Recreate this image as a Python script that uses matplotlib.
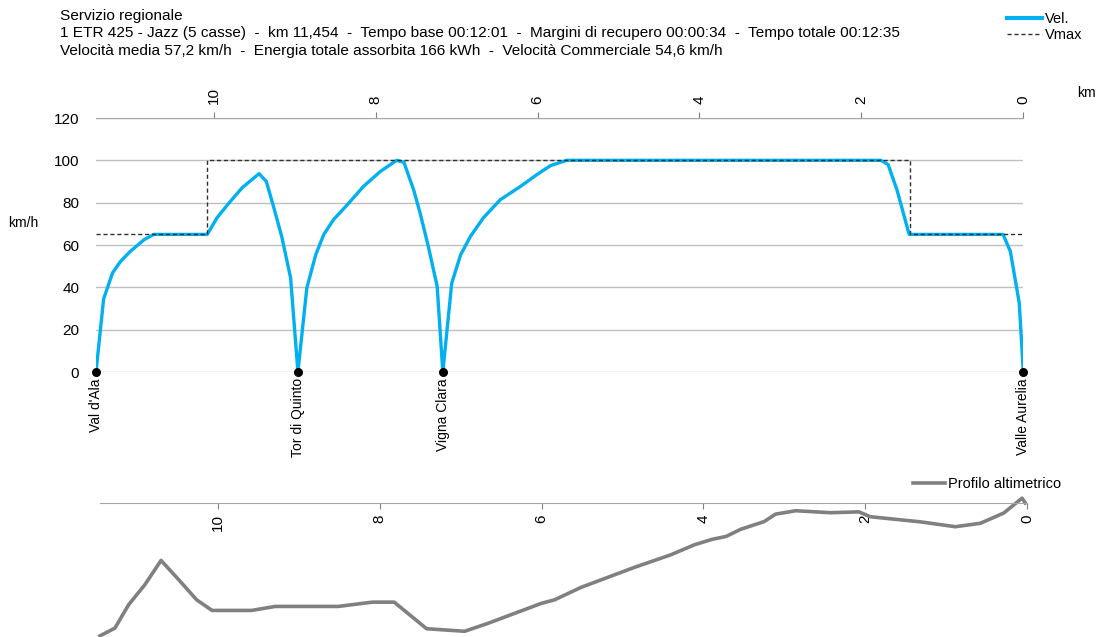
import matplotlib
matplotlib.use("Agg")
import matplotlib.pyplot as plt

# ---------------------------------------------------------------------------
# Data (km from Valle Aurelia, decreasing left to right)
# ---------------------------------------------------------------------------
TOTAL_KM = 11.454

SPEED_KM = [11.454, 11.36, 11.25, 11.15, 11.03, 10.86, 10.74, 10.08, 9.96, 9.83,
            9.65, 9.44, 9.35, 9.26, 9.16, 9.05, 8.96, 8.85, 8.74, 8.64,
            8.52, 8.35, 8.15, 7.94, 7.74, 7.65, 7.53, 7.45, 7.35, 7.24,
            7.17, 7.06, 6.95, 6.83, 6.67, 6.46, 6.21, 6.01, 5.84, 5.64,
            1.76, 1.67, 1.56, 1.41, 0.25, 0.16, 0.05, 0.0]
SPEED = [0, 34.5, 46.8, 52.3, 57, 62.5, 65, 65, 72.8, 79,
         87, 93.7, 90, 78, 64, 44.4, 0, 39.7, 55.4, 65,
         72, 79, 87.7, 94.8, 100, 99, 86, 75, 59.4, 40.5,
         0, 42, 55.4, 64, 72.8, 81.4, 87.7, 93.2, 97.5, 100,
         100, 98, 86, 65, 65, 57, 32.6, 0]

VMAX_KM = [11.454, 10.08, 10.08, 1.40, 1.40, 0.0]
VMAX = [65, 65, 100, 100, 65, 65]

STATIONS = ["Val d'Ala", "Tor di Quinto", "Vigna Clara", "Valle Aurelia"]
STATION_KM = [11.454, 8.96, 7.17, 0.0]

ALT_KM = [11.454, 11.27, 11.10, 10.90, 10.70, 10.48, 10.26, 10.07, 9.58, 9.29,
          8.51, 8.09, 7.82, 7.42, 6.95, 6.66, 6.33, 6.00, 5.84, 5.51,
          4.85, 4.40, 4.11, 3.89, 3.72, 3.54, 3.25, 3.11, 2.86, 2.43,
          2.08, 1.94, 1.32, 0.89, 0.58, 0.29, 0.065, 0.025]
ALT = [20.0, 22.7, 30.9, 37.9, 46.4, 39.6, 32.6, 28.9, 28.9, 30.3,
       30.3, 31.8, 31.8, 22.5, 21.6, 24.4, 27.9, 31.4, 32.6, 37.0,
       44.0, 48.4, 51.9, 53.8, 54.8, 57.3, 60.0, 62.6, 63.8, 63.1,
       63.4, 61.7, 59.9, 58.2, 59.4, 63.0, 68.2, 66.5]

KM_TICKS = [10, 8, 6, 4, 2, 0]
SPEED_TICKS = [0, 20, 40, 60, 80, 100, 120]

HEADER_LINES = [
    "Servizio regionale",
    "1 ETR 425 - Jazz (5 casse)  -  km 11,454  -  Tempo base 00:12:01  -  "
    "Margini di recupero 00:00:34  -  Tempo totale 00:12:35",
    "Velocità media 57,2 km/h  -  Energia totale assorbita 166 kWh  -  "
    "Velocità Commerciale 54,6 km/h",
]

BLUE = "#00b0f0"
GREY_LINE = "#808080"
GRID = "#c0c0c0"
ARIAL = ["Liberation Sans", "DejaVu Sans"]

W, H = 1102, 637


def px(x, y):
    """pixel position -> figure fraction"""
    return x / W, 1 - y / H


plt.rcParams["font.family"] = ARIAL

fig = plt.figure(figsize=(W / 100, H / 100), dpi=100, facecolor="white")

# ── speed panel ──────────────────────────────────────────────────────────
ax = fig.add_axes([96 / W, 1 - 372 / H, 927.3 / W, 254 / H])
ax.set_xlim(TOTAL_KM, 0)
ax.set_ylim(0, 120)
ax.plot(VMAX_KM, VMAX, color="#303030", lw=1.0, ls=(0, (3, 2)), label="Vmax", zorder=3)
ax.plot(SPEED_KM, SPEED, color=BLUE, lw=2.4, label="Vel.", zorder=2)
ax.scatter(STATION_KM, [0] * len(STATION_KM), s=30, color="black", zorder=4, clip_on=False)

for name, km in zip(STATIONS, STATION_KM):
    ax.text(km, -3, name, rotation=90, ha="center", va="top", fontsize=10)

for s in ax.spines.values():
    s.set_visible(False)
ax.set_yticks(SPEED_TICKS)
ax.yaxis.grid(True, color=GRID, lw=1.0)
ax.set_axisbelow(True)
ax.tick_params(axis="y", length=0, pad=12, labelsize=11)
ax.xaxis.tick_top()
ax.set_xticks(KM_TICKS)
ax.set_xticklabels([str(t) for t in KM_TICKS], rotation=90)
ax.tick_params(axis="x", direction="out", length=4, color=GREY_LINE, pad=6, labelsize=11)
ax.spines["top"].set_visible(True)
ax.spines["top"].set_color("#a6a6a6")

fig.text(*px(8, 223), "km/h", fontsize=10, va="center")
fig.text(*px(1077, 93), "km", fontsize=10, va="center")

handles, labels = ax.get_legend_handles_labels()
leg = fig.legend(handles[::-1], labels[::-1], loc="upper left", bbox_to_anchor=px(1000, 5),
                 frameon=False, prop={"size": 10.5}, handlelength=2.4,
                 handletextpad=0.15, labelspacing=0.15, borderpad=0)
leg.get_lines()[0].set_linewidth(3)

for i, line in enumerate(HEADER_LINES):
    fig.text(*px(60, 16 + i * 17.5), line, fontsize=11.1, va="center")

# ── altimetric profile ───────────────────────────────────────────────────
ax2 = fig.add_axes([100 / W, 0, 927.3 / W, 134 / H])
ax2.set_xlim(TOTAL_KM, 0)
ax2.set_ylim(19.6, 66.5)
ax2.plot(ALT_KM, ALT, color=GREY_LINE, lw=2.6, clip_on=False, label="Profilo altimetrico")
for k in ("left", "right", "top"):
    ax2.spines[k].set_visible(False)
ax2.spines["bottom"].set_position(("axes", 1.0))
ax2.spines["bottom"].set_color("#a6a6a6")
ax2.set_yticks([])
ax2.set_xticks(KM_TICKS)
ax2.set_xticklabels([str(t) for t in KM_TICKS], rotation=90)
ax2.tick_params(axis="x", direction="out", length=4, color=GREY_LINE, pad=4, labelsize=11)
ax2.patch.set_visible(False)

fig.legend(*ax2.get_legend_handles_labels(), loc="center left", bbox_to_anchor=px(906, 484),
           frameon=False, prop={"size": 10.5}, handlelength=2.2,
           handletextpad=0.15, borderpad=0)

fig.savefig("out.png", dpi=100, facecolor="white")
